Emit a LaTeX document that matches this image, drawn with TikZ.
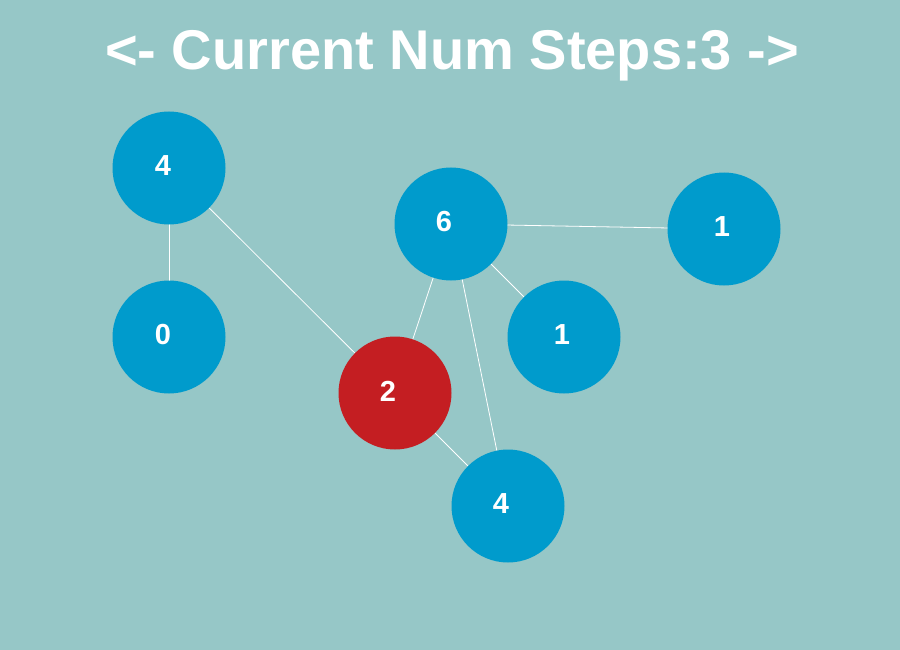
\documentclass[tikz,border=0pt]{standalone}
\usepackage{fontspec}
\setmainfont{Liberation Sans}
\definecolor{bgc}{RGB}{150,199,199}
\definecolor{nblue}{RGB}{0,155,204}
\definecolor{nred}{RGB}{196,30,34}
\begin{document}
\begin{tikzpicture}[x=1pt,y=-1pt,
  gnode/.style={circle,fill=nblue,minimum size=113pt,inner sep=0pt},
  rnode/.style={gnode,fill=nred},
  lbl/.style={text=white,font=\bfseries\fontsize{29}{29}\selectfont,inner sep=0pt},
  edge/.style={draw=white,line width=0.8pt}]
\fill[bgc] (0,0) rectangle (900,650);
\useasboundingbox (0,0) rectangle (900,650);
\node[text=white,font=\bfseries\fontsize{56}{56}\selectfont,anchor=base] (title) at (452,70) {<- Current Num Steps:3 ->};
\coordinate (pA) at (169,168);
\coordinate (pB) at (169,337);
\coordinate (pC) at (451,224);
\coordinate (pD) at (724,229);
\coordinate (pE) at (564,337);
\coordinate (pF) at (395,393);
\coordinate (pG) at (508,506);
\draw[edge] (pA) -- (pB);
\draw[edge] (pA) -- (pF);
\draw[edge] (pC) -- (pD);
\draw[edge] (pC) -- (pE);
\draw[edge] (pC) -- (pF);
\draw[edge] (pC) -- (pG);
\draw[edge] (pF) -- (pG);
\node[gnode] (A) at (pA) {};
\node[gnode] (B) at (pB) {};
\node[gnode] (C) at (pC) {};
\node[gnode] (D) at (pD) {};
\node[gnode] (E) at (pE) {};
\node[rnode] (F) at (pF) {};
\node[gnode] (G) at (pG) {};
\node[lbl] (lA) at ([xshift=-6pt,yshift=2pt]A.center) {4};
\node[lbl] (lB) at ([xshift=-6pt,yshift=2pt]B.center) {0};
\node[lbl] (lC) at ([xshift=-7pt,yshift=2pt]C.center) {6};
\node[lbl] (lD) at ([xshift=-2pt,yshift=2pt]D.center) {1};
\node[lbl] (lE) at ([xshift=-2pt,yshift=2pt]E.center) {1};
\node[lbl] (lF) at ([xshift=-7pt,yshift=2pt]F.center) {2};
\node[lbl] (lG) at ([xshift=-7pt,yshift=2pt]G.center) {4};
\end{tikzpicture}
\end{document}
